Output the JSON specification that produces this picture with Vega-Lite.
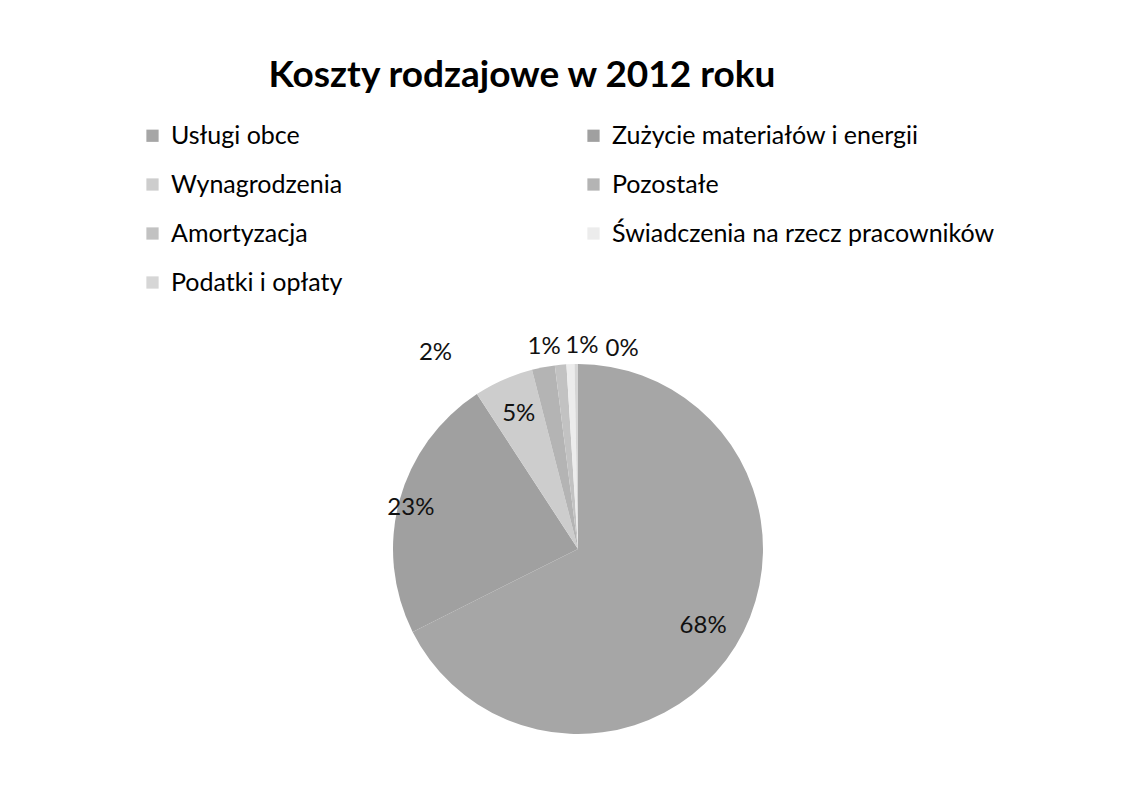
{
  "$schema": "https://vega.github.io/schema/vega-lite/v6.json",
  "width": 370,
  "height": 370,
  "autosize": {"type": "none"},
  "padding": {"left": 393, "top": 364, "right": 369, "bottom": 52},
  "background": "white",
  "title": {
    "text": "Koszty rodzajowe  w 2012 roku",
    "font": "Lato",
    "fontSize": 37,
    "fontWeight": "bold",
    "color": "#000000",
    "anchor": "middle",
    "frame": "group",
    "dx": -56,
    "offset": 28
  },
  "data": {
    "values": [
      {"idx": 1, "kategoria": "Usługi obce", "udzial": 0.676},
      {"idx": 2, "kategoria": "Zużycie materiałów i energii", "udzial": 0.232},
      {"idx": 3, "kategoria": "Wynagrodzenia", "udzial": 0.052},
      {"idx": 4, "kategoria": "Pozostałe", "udzial": 0.02},
      {"idx": 5, "kategoria": "Amortyzacja", "udzial": 0.01},
      {"idx": 6, "kategoria": "Świadczenia na rzecz pracowników", "udzial": 0.007},
      {"idx": 7, "kategoria": "Podatki i opłaty", "udzial": 0.003}
    ]
  },
  "encoding": {
    "theta": {"field": "udzial", "type": "quantitative", "stack": true},
    "order": {"field": "idx", "type": "quantitative"}
  },
  "layer": [
    {
      "mark": {"type": "arc"},
      "encoding": {
        "color": {
          "field": "kategoria",
          "type": "nominal",
          "sort": ["Usługi obce", "Zużycie materiałów i energii", "Wynagrodzenia", "Pozostałe", "Amortyzacja", "Świadczenia na rzecz pracowników", "Podatki i opłaty"],
          "scale": {
            "domain": ["Usługi obce", "Zużycie materiałów i energii", "Wynagrodzenia", "Pozostałe", "Amortyzacja", "Świadczenia na rzecz pracowników", "Podatki i opłaty"],
            "range": ["#a6a6a6", "#a0a0a0", "#cdcdcd", "#b4b4b4", "#c2c2c2", "#ececec", "#d6d6d6"]
          },
          "legend": {
            "title": null,
            "orient": "none",
            "legendX": -253,
            "legendY": -241,
            "direction": "horizontal",
            "columns": 2,
            "symbolType": "square",
            "symbolSize": 150,
            "symbolStrokeWidth": 0,
            "labelFont": "Lato",
            "labelFontSize": 25,
            "labelColor": "#000000",
            "labelOffset": 6,
            "labelLimit": 500,
            "rowPadding": 23,
            "columnPadding": 238
          }
        }
      }
    },
    {
      "mark": {"type": "text", "radius": 147, "font": "Lato", "fontSize": 24, "color": "#111111"},
      "encoding": {"text": {"condition": {"test": "datum.idx == 1 || datum.idx == 3", "field": "udzial", "type": "quantitative", "format": ".0%"}, "value": ""}}
    },
    {
      "mark": {"type": "text", "radius": 170, "dx": -3, "dy": 3, "font": "Lato", "fontSize": 24, "color": "#111111"},
      "encoding": {"text": {"condition": {"test": "datum.idx == 2", "field": "udzial", "type": "quantitative", "format": ".0%"}, "value": ""}}
    },
    {
      "mark": {"type": "text", "radius": 200, "dx": -105, "font": "Lato", "fontSize": 24, "color": "#111111"},
      "encoding": {"text": {"condition": {"test": "datum.idx == 4", "field": "udzial", "type": "quantitative", "format": ".0%"}, "value": ""}}
    },
    {
      "mark": {"type": "text", "radius": 200, "dx": -15, "dy": -3, "font": "Lato", "fontSize": 24, "color": "#111111"},
      "encoding": {"text": {"condition": {"test": "datum.idx == 5", "field": "udzial", "type": "quantitative", "format": ".0%"}, "value": ""}}
    },
    {
      "mark": {"type": "text", "radius": 200, "dx": 12, "dy": -3, "font": "Lato", "fontSize": 24, "color": "#111111"},
      "encoding": {"text": {"condition": {"test": "datum.idx == 6", "field": "udzial", "type": "quantitative", "format": ".0%"}, "value": ""}}
    },
    {
      "mark": {"type": "text", "radius": 200, "dx": 46, "font": "Lato", "fontSize": 24, "color": "#111111"},
      "encoding": {"text": {"condition": {"test": "datum.idx == 7", "field": "udzial", "type": "quantitative", "format": ".0%"}, "value": ""}}
    }
  ]
}
